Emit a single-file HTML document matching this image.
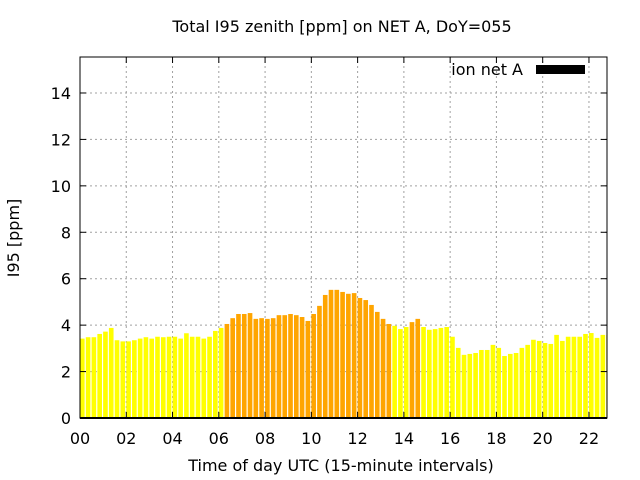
<!DOCTYPE html>
<html><head><meta charset="utf-8"><style>
body{margin:0;background:#fff}
svg{display:block;font-family:"DejaVu Sans","Liberation Sans",sans-serif}
</style></head><body>
<svg id="chart" width="640" height="480" viewBox="0 0 640 480">
<rect width="640" height="480" fill="#fff"/>
<text x="342" y="32" font-size="16" text-anchor="middle">Total I95 zenith [ppm] on NET A, DoY=055</text>
<text transform="translate(19,238) rotate(-90)" font-size="16" text-anchor="middle">I95 [ppm]</text>
<text x="341" y="471" font-size="16" text-anchor="middle">Time of day UTC (15-minute intervals)</text>
<g id="grid"></g>
<g id="bars"></g>
<rect x="80" y="57" width="527" height="361" fill="none" stroke="#000" stroke-width="1"/>
<line x1="80" y1="418" x2="607" y2="418" stroke="#000" stroke-width="2"/>
<g id="ticks"></g>
<text x="523" y="75" font-size="16" text-anchor="end">ion net A</text>
<rect x="536" y="65" width="49" height="9" fill="#000"/>
</svg>
<script>
const values=[3.42,3.48,3.48,3.62,3.72,3.88,3.35,3.3,3.3,3.35,3.42,3.48,3.42,3.5,3.48,3.5,3.5,3.42,3.65,3.5,3.5,3.42,3.5,3.75,3.88,
4.05,4.3,4.48,4.48,4.52,4.27,
4.3,4.27,4.3,4.43,4.43,4.48,4.43,4.35,4.18,4.48,4.83,5.3,5.52,5.52,5.43,5.35,5.38,5.17,5.08,4.87,4.57,4.27,4.05,
3.97,3.83,3.92,4.13,4.27,3.92,3.8,
3.83,3.88,3.92,3.5,3.02,2.72,2.76,2.8,2.93,2.93,3.15,3.02,2.67,2.76,2.8,3.02,3.15,3.37,3.32,3.23,3.19,3.58,3.32,3.5,3.5,3.5,3.62,3.66,3.45,3.58,3.58];
const highlighted=[25,26,27,28,29,30,31,32,33,34,35,36,37,38,39,40,41,42,43,44,45,46,47,48,49,50,51,52,53,57,58];
const yTicks=[0,2,4,6,8,10,12,14];
const xTicks=["00","02","04","06","08","10","12","14","16","18","20","22"];
const NS="http://www.w3.org/2000/svg";
const X0=80,X1=607,Y0=418,Y1=57,XMAX=22.78,YMAX=15.55;
const xs=h=>X0+h/XMAX*(X1-X0);
const ys=v=>Y0-v/YMAX*(Y0-Y1);
function mk(t,a,p){const e=document.createElementNS(NS,t);for(const k in a)e.setAttribute(k,a[k]);p.appendChild(e);return e;}
const grid=document.getElementById('grid'),bars=document.getElementById('bars'),ticks=document.getElementById('ticks');
yTicks.forEach(v=>{
  const y=ys(v);
  if(v>0){const g=mk('line',{x1:X0,x2:X1,y1:y,y2:y,stroke:'#a0a0a0','stroke-dasharray':'2,3'},grid);
  
  }
  mk('line',{x1:X0,x2:X0+6,y1:y,y2:y,stroke:'#000'},ticks);
  mk('line',{x1:X1,x2:X1-6,y1:y,y2:y,stroke:'#000'},ticks);
  const t=mk('text',{x:X0-9,y:y+6,'font-size':16,'text-anchor':'end'},ticks);t.textContent=v;
  
  
});
xTicks.forEach(s=>{
  const x=xs(parseInt(s,10));
  if(x>X0){const g=mk('line',{x1:x,x2:x,y1:Y0,y2:Y1,stroke:'#a0a0a0','stroke-dasharray':'2,3'},grid);
  
  }
  mk('line',{x1:x,x2:x,y1:Y0,y2:Y0-6,stroke:'#000'},ticks);
  mk('line',{x1:x,x2:x,y1:Y1,y2:Y1+6,stroke:'#000'},ticks);
  const t=mk('text',{x:x,y:444,'font-size':16,'text-anchor':'middle'},ticks);t.textContent=s;
  
  
});
values.forEach((v,i)=>{
  const h0=i*0.25,h1=Math.min(i*0.25+0.2,XMAX);
  if(h0>=XMAX)return;
  const r=mk('rect',{x:xs(h0),y:ys(v),width:xs(h1)-xs(h0),height:Y0-ys(v),fill:highlighted.includes(i)?'#ffa500':'#ffff00'},bars);
  
  
});
</script>
</body></html>
